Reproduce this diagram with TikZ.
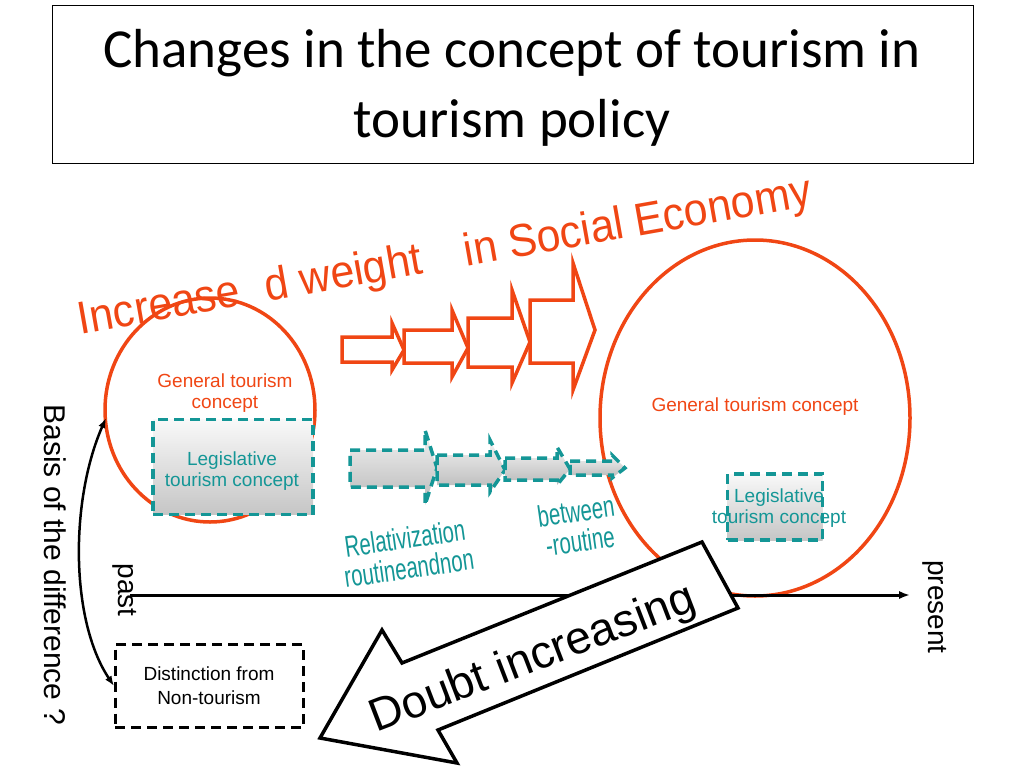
\documentclass[tikz,border=0pt]{standalone}
\usepackage{fontspec}
\setmainfont{Liberation Sans}
\newfontfamily\titlefont{Carlito}
\usetikzlibrary{arrows.meta}
\definecolor{redorange}{RGB}{240,70,20}
\definecolor{tealdash}{RGB}{20,150,150}

\tikzset{
  redarrow/.style={draw=redorange, line width=3.5pt, fill=white, line join=miter},
  grayarrow/.style={draw=tealdash, line width=3.5pt, dash pattern=on 10pt off 6pt, top color=gray!10, bottom color=gray!55},
  tealbox/.style={draw=tealdash, line width=3.5pt, dash pattern=on 10pt off 6pt, top color=gray!5, bottom color=gray!45},
  redtext/.style={text=redorange, font=\fontsize{19}{21}\selectfont, align=center},
  tealtext/.style={text=tealdash, font=\fontsize{19}{21}\selectfont, align=center}
}

\begin{document}
\begin{tikzpicture}[x=1pt,y=-1pt]
    \useasboundingbox (0,0) rectangle (1024,768);

    % title
    \node[draw, line width=1pt, minimum width=921pt, minimum height=158pt, anchor=north west] (title) at (52,5) {};
    \node[font=\titlefont\fontsize{55}{70}\selectfont, align=center] (titletext) at (512,88)
      {Changes in the concept of tourism in\\tourism policy};

    % heading along the top
    \node[text=redorange, rotate=10, font=\fontsize{46}{46}\selectfont] (weight) at (445,258)
      {\scalebox{0.93}[1]{Increase\hspace{0.6em}d weight\hspace{1em}in Social Economy}};

    % circles
    \draw[redorange, line width=3.5pt] (210,410) ellipse [x radius=105, y radius=112];
    \draw[redorange, line width=3.5pt] (755,418) ellipse [x radius=155, y radius=178];

    % growing red arrows
    \draw[redarrow] (342,337) -- (392,337) -- (392,323) -- (404,350) -- (392,370) -- (392,362) -- (342,362) -- cycle;
    \draw[redarrow] (404,330) -- (452,330) -- (452,310) -- (468,348) -- (452,377) -- (452,363) -- (404,363) -- cycle;
    \draw[redarrow] (468,318) -- (512,318) -- (512,290) -- (530,342) -- (512,383) -- (512,367) -- (468,367) -- cycle;
    \draw[redarrow] (530,300) -- (573,300) -- (573,263) -- (595,330) -- (573,390) -- (573,363) -- (530,363) -- cycle;

    % gray arrows
    \draw[grayarrow] (350,450) -- (425,450) -- (425,430) -- (437,468) -- (425,505) -- (425,487) -- (350,487) -- cycle;
    \draw[grayarrow] (437,455) -- (490,455) -- (490,440) -- (505,470) -- (490,492) -- (490,485) -- (437,485) -- cycle;
    \draw[grayarrow] (505,458) -- (557,458) -- (557,447) -- (570,469) -- (557,485) -- (557,480) -- (505,480) -- cycle;
    \draw[grayarrow] (570,461) -- (612,461) -- (612,455) -- (625,468) -- (612,478) -- (612,475) -- (570,475) -- cycle;

    % left concept
    \node[redtext] (gencl) at (225,393) {General tourism\\concept};
    \node[tealbox, minimum width=160pt, minimum height=95pt] (legl) at (233,467) {};
    \node[tealtext] (legltext) at (232,471) {Legislative\\tourism concept};

    % right concept
    \node[redtext] (gencr) at (755,407) {General tourism concept};
    \node[tealbox, minimum width=95pt, minimum height=66pt] (legr) at (775,507) {};
    \node[tealtext] (legrtext) at (779,508) {Legislative\\tourism concept};

    % relativization labels
    \node[tealtext, rotate=8, font=\fontsize{30}{30}\selectfont] (relat) at (407,553)
      {\scalebox{0.68}[1]{Relativization}\\\scalebox{0.68}[1]{routineandnon}};
    \node[tealtext, rotate=8, font=\fontsize{30}{30}\selectfont] (betw) at (578,526)
      {\scalebox{0.68}[1]{between}\\\scalebox{0.68}[1]{-routine}};

    % time axis
    \coordinate (past) at (130,595);
    \coordinate (present) at (910,595);
    \draw[line width=3pt, -{Latex[length=11pt]}] (past) -- (present);
    \node[rotate=-90, font=\fontsize{28}{28}\selectfont] (pastl) at (125,590) {past};
    \node[rotate=-90, font=\fontsize{28}{28}\selectfont] (presl) at (935,607) {present};

    % basis
    \node[rotate=-90, font=\fontsize{30}{30}\selectfont] (basis) at (55,565) {Basis of the difference ?};
    \node[draw, line width=3pt, dash pattern=on 10pt off 6pt, minimum width=188pt, minimum height=83pt,
      align=center, font=\fontsize{19}{24}\selectfont] (dist) at (209,686) {Distinction from\\Non-tourism};
    \coordinate (btop) at (106,418);
    \coordinate (bbot) at (114,686);
    \draw[line width=2.5pt, {Latex[length=10pt]}-{Latex[length=10pt]}] (btop) .. controls (70,500) and (70,620) .. (bbot);

    % doubt arrow
    \draw[line width=3.5pt, fill=white] (320,738) -- (382,630) -- (402,663) -- (702,542) -- (738,608)
      -- (438,730) -- (457,763) -- cycle;
    \node[rotate=21, font=\fontsize{46}{46}\selectfont] (doubt) at (533,660) {Doubt increasing};
\end{tikzpicture}
\end{document}
